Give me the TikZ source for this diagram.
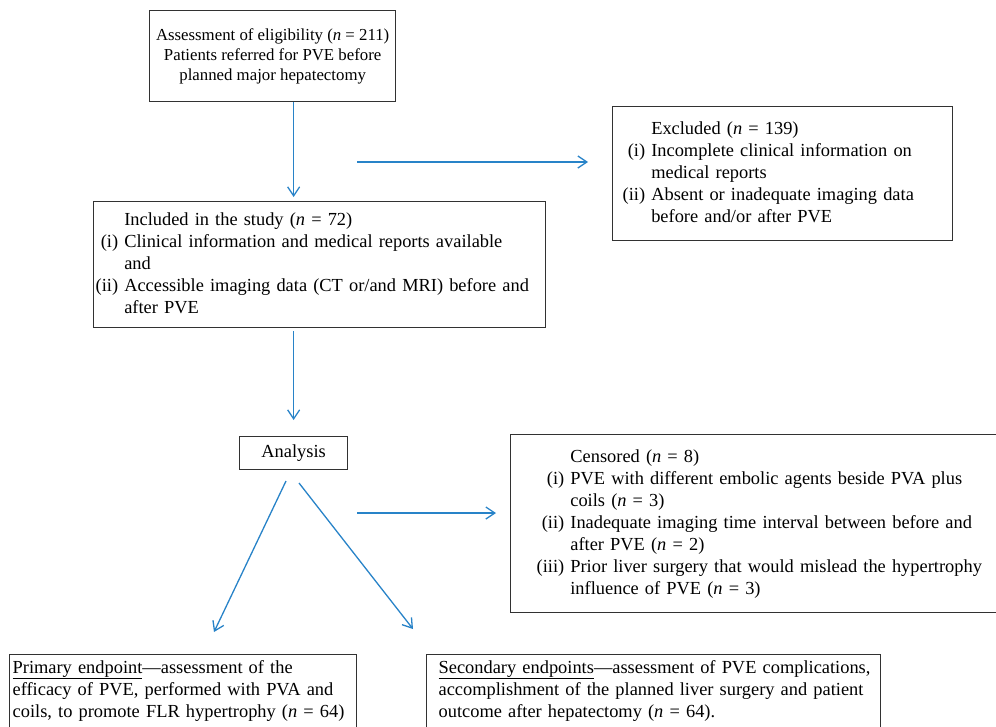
\documentclass[tikz,border=0pt]{standalone}
\usepackage{fontspec}
\setmainfont{Liberation Serif}
\usetikzlibrary{arrows.meta}
\definecolor{flowblue}{RGB}{40,131,200}
\definecolor{boxgray}{RGB}{50,50,50}
\newcommand{\nn}{\textit{n}}

\begin{document}
\begin{tikzpicture}[
      x=1pt, y=-1pt,
      box/.style={draw=boxgray, line width=1.3pt, align=left, inner ysep=0pt,
                  font=\fontsize{18.4}{22}\selectfont, text=black},
      flow/.style={draw=flowblue, line width=1.3pt,
                   -{Straight Barb[length=9pt,width=12pt]}}
    ]
      \useasboundingbox (0,0) rectangle (996,726);
      \clip (0,0) rectangle (996,726);
      \node[box, anchor=north west, align=center, minimum width=246pt, minimum height=91pt,
            font=\fontsize{16.8}{20}\selectfont] (elig) at (149,10)
        {Assessment of eligibility (\nn{} = 211)\\Patients referred for PVE before\\planned major hepatectomy};
      \node[box, anchor=north west, inner xsep=2pt, text width=448pt, minimum height=126pt] (incl) at (93,201) {%
        \begin{tabular}{@{}r@{\ }l@{}}
          & Included in the study (\nn{} = 72)\\
          (i) & Clinical information and medical reports available\\
          & and\\
          (ii) & Accessible imaging data (CT or/and MRI) before and\\
          & after PVE
        \end{tabular}};
      \node[box, anchor=north west, inner xsep=10pt, text width=320pt, minimum height=134pt] (excl) at (612,106) {%
        \begin{tabular}{@{}r@{\ }l@{}}
          & Excluded (\nn{} = 139)\\
          (i) & Incomplete clinical information on\\
          & medical reports\\
          (ii) & Absent or inadequate imaging data\\
          & before and/or after PVE
        \end{tabular}};
      \node[box, anchor=north west, minimum width=108pt, minimum height=33pt, align=center] (ana) at (239,436) {Analysis};
      \node[box, anchor=north west, inner xsep=26pt, text width=460pt, minimum height=178pt] (cens) at (510,434) {%
        \begin{tabular}{@{}r@{\ }l@{}}
          & Censored (\nn{} = 8)\\
          (i) & PVE with different embolic agents beside PVA plus\\
          & coils (\nn{} = 3)\\
          (ii) & Inadequate imaging time interval between before and\\
          & after PVE (\nn{} = 2)\\
          (iii) & Prior liver surgery that would mislead the hypertrophy\\
          & influence of PVE (\nn{} = 3)
        \end{tabular}};
      \node[box, anchor=north west, inner xsep=3pt, inner ysep=3pt, text width=341pt] (prim) at (9,654) {%
        \begin{tabular}{@{}l@{}}
          \underline{Primary endpoint}---assessment of the\\
          efficacy of PVE, performed with PVA and\\
          coils, to promote FLR hypertrophy (\nn{} = 64)\\[20pt]
        \end{tabular}};
      \node[box, anchor=north west, inner xsep=12pt, inner ysep=3pt, text width=430pt] (sec) at (426,654) {%
        \begin{tabular}{@{}l@{}}
          \underline{Secondary endpoints}---assessment of PVE complications,\\
          accomplishment of the planned liver surgery and patient\\
          outcome after hepatectomy (\nn{} = 64).\\[20pt]
        \end{tabular}};
      \coordinate (exS) at (357,162);
      \coordinate (ceS) at (357,513);
      \coordinate (dl1) at (286,481);
      \coordinate (dl2) at (214,632);
      \coordinate (dr1) at (299,483);
      \coordinate (dr2) at (413,629);
      \draw[flow, shorten >=4pt] (elig.south -| ana) -- (incl.north -| ana);
      \draw[flow, shorten <=3pt, shorten >=16pt] (incl.south -| ana) -- (ana.north);
      \draw[flow, shorten >=24pt] (exS) -- (exS -| excl.west);
      \draw[flow, shorten >=14pt] (ceS) -- (ceS -| cens.west);
      \draw[flow] (dl1) -- (dl2);
      \draw[flow] (dr1) -- (dr2);
    \end{tikzpicture}
\end{document}
